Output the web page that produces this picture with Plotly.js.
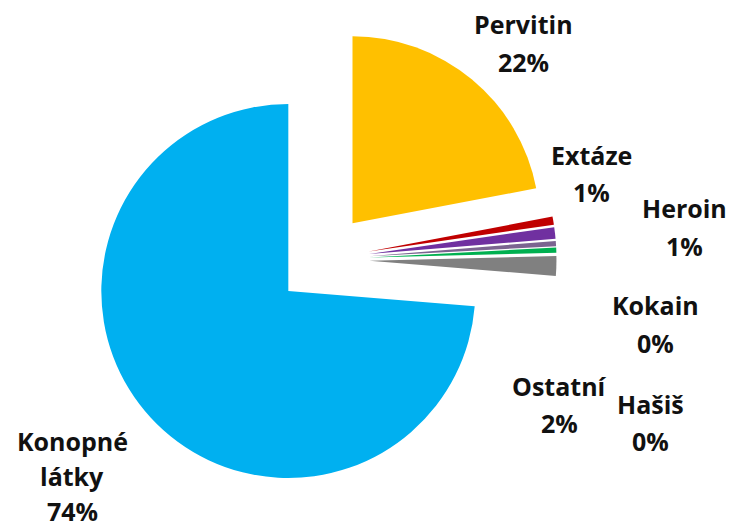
<!DOCTYPE html>
<html>
<head>
<meta charset="utf-8">
<script src="https://cdn.plot.ly/plotly-3.0.1.min.js"></script>
<style>
  html, body { margin: 0; padding: 0; background: #fff; }
  #chart { width: 732px; height: 532px; }
</style>
</head>
<body>
<div id="chart"></div>
<script>
var labels = ['Pervitin', 'Extáze', 'Heroin', 'Kokain', 'Hašiš', 'Ostatní', 'Konopné látky'];
var values = [22.0, 0.7, 1.0, 0.45, 0.45, 1.7, 73.7];
var colors = ['#FFC000', '#C00000', '#7030A0', '#7B6490', '#00B050', '#808080', '#00B0F0'];

// label centres in pixels (x, y of first line) and gap between lines
var labelPos = [[523, 24], [591, 155], [684, 208], [655, 305], [650, 404], [559, 386], [72, 441]];
var lineGaps = [38, 37, 38, 38, 37, 37, 35];

var total = values.reduce(function (a, b) { return a + b; }, 0);
var W = 732, H = 532;

var annotations = [];
labels.forEach(function (lab, i) {
  var lines = lab.split(' ').concat([Math.round(values[i] / total * 100) + '%']);
  lines.forEach(function (t, k) {
    annotations.push({
      text: t,
      xref: 'paper', yref: 'paper',
      x: labelPos[i][0] / W,
      y: 1 - (labelPos[i][1] + k * lineGaps[i]) / H,
      xanchor: 'center', yanchor: 'middle',
      showarrow: false,
      font: { family: 'Open Sans, Noto Sans, sans-serif', size: 25, color: '#111', weight: 'bold' }
    });
  });
});

var trace = {
  type: 'pie',
  labels: labels,
  values: values,
  sort: false,
  direction: 'clockwise',
  rotation: 0,
  pull: 0.25,
  textinfo: 'none',
  hoverinfo: 'label+percent',
  marker: { colors: colors, line: { color: '#fff', width: 0 } },
  domain: { x: [0.1215, 0.7602], y: [0.073, 0.952] }
};

var layout = {
  width: W,
  height: H,
  margin: { l: 0, r: 0, t: 0, b: 0 },
  showlegend: false,
  paper_bgcolor: '#fff',
  annotations: annotations
};

Plotly.newPlot('chart', [trace], layout, { displayModeBar: false });
</script>
</body>
</html>
